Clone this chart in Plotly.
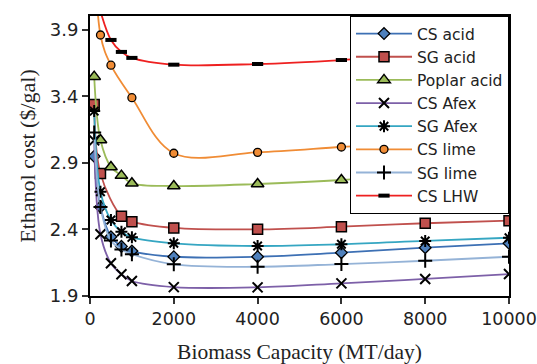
import plotly.graph_objects as go

capacity = [100, 250, 500, 750, 1000, 2000, 4000, 6000, 8000, 10000]

cs_acid = [2.95, 2.57, 2.345, 2.273, 2.238, 2.195, 2.195, 2.226, 2.263, 2.296]
sg_acid = [3.34, 2.82, None, 2.50, 2.459, 2.412, 2.401, 2.421, 2.447, 2.466]
poplar_acid = [3.549, 3.073, 2.87, 2.805, 2.747, 2.727, 2.742, 2.772, 2.825, 2.885]
cs_afex = [3.07, 2.364, 2.146, 2.063, 2.013, 1.967, 1.965, 1.995, 2.028, 2.065]
sg_afex = [3.29, 2.684, 2.471, 2.383, 2.341, 2.296, 2.276, 2.289, 2.314, 2.338]
cs_lime = [5.0, 3.862, 3.635, None, 3.391, 2.973, 2.980, 3.02, 3.06, 3.125]
sg_lime = [3.13, 2.57, 2.318, 2.25, 2.214, 2.138, 2.12, 2.14, 2.165, 2.195]
cs_lhw = [None, 4.04, 3.825, 3.735, 3.69, 3.639, 3.644, 3.674, 3.72, 3.765]

x_ticks = [0, 2000, 4000, 6000, 8000, 10000]
y_ticks = [1.9, 2.4, 2.9, 3.4, 3.9]

series = [
    ("CS acid", cs_acid, "#3D70B4", dict(symbol="diamond", size=9, color="#4F81BD", line=dict(color="black", width=1.3))),
    ("SG acid", sg_acid, "#C0504D", dict(symbol="square", size=10, color="#C0504D", line=dict(color="black", width=1.5))),
    ("Poplar acid", poplar_acid, "#9BBB59", dict(symbol="triangle-up", size=11, color="#9BBB59", line=dict(color="black", width=1.5))),
    ("CS Afex", cs_afex, "#7D60A8", dict(symbol="x-thin-open", size=10, color="black", line=dict(color="black", width=2))),
    ("SG Afex", sg_afex, "#35A6C2", dict(symbol="asterisk-open", size=10, color="black", line=dict(color="black", width=2))),
    ("CS lime", cs_lime, "#F08C35", dict(symbol="circle", size=8, color="#F08C35", line=dict(color="black", width=1.3))),
    ("SG lime", sg_lime, "#95B3D7", dict(symbol="cross-thin-open", size=10, color="black", line=dict(color="black", width=2))),
    ("CS LHW", cs_lhw, "#EE2020", dict(symbol="line-ew-open", size=8, color="black", line=dict(color="black", width=4))),
]

fig = go.Figure()
for name, vals, col, mk in series:
    fig.add_trace(go.Scatter(
        x=capacity, y=vals, name=name, mode="lines+markers",
        line=dict(color=col, width=1.8, shape="spline", smoothing=1.0),
        marker=mk, connectgaps=True,
    ))

sans = "DejaVu Sans, Liberation Sans, Arial"
serif = "Liberation Serif, Times New Roman"

fig.update_layout(
    width=537, height=364,
    margin=dict(l=90, r=28, t=16, b=68, autoexpand=False),
    paper_bgcolor="white", plot_bgcolor="white",
    showlegend=True,
    legend=dict(
        x=1, y=1, xanchor="right", yanchor="top",
        bgcolor="white", bordercolor="black", borderwidth=1,
        font=dict(family=sans, size=15.5, color="#222"),
        itemwidth=56, tracegroupgap=0, maxheight=1,
    ),
    xaxis=dict(
        range=[0, 10000], tickvals=x_ticks, ticktext=[str(v) for v in x_ticks],
        showline=True, linecolor="black", linewidth=2, mirror=True,
        ticks="outside", ticklen=6, tickwidth=1.5, tickcolor="#333",
        showgrid=False, zeroline=False, automargin=False,
        ticklabeloverflow="allow",
        tickfont=dict(family=sans, size=17.5, color="#222"),
        title=dict(text="Biomass Capacity (MT/day)", standoff=16,
                   font=dict(family=serif, size=21.5, color="#222")),
    ),
    yaxis=dict(
        range=[1.9, 4.005], tickvals=y_ticks, ticktext=[f"{v:.1f}" for v in y_ticks],
        showline=True, linecolor="black", linewidth=2, mirror=True,
        ticks="outside", ticklen=6, tickwidth=1.5, tickcolor="#333",
        showgrid=False, zeroline=False, automargin=False,
        ticklabeloverflow="allow",
        tickfont=dict(family=sans, size=18, color="#222"),
        title=dict(text="Ethanol cost ($/gal)", standoff=8,
                   font=dict(family=serif, size=22, color="#222")),
    ),
)

fig.write_html("out.html")
